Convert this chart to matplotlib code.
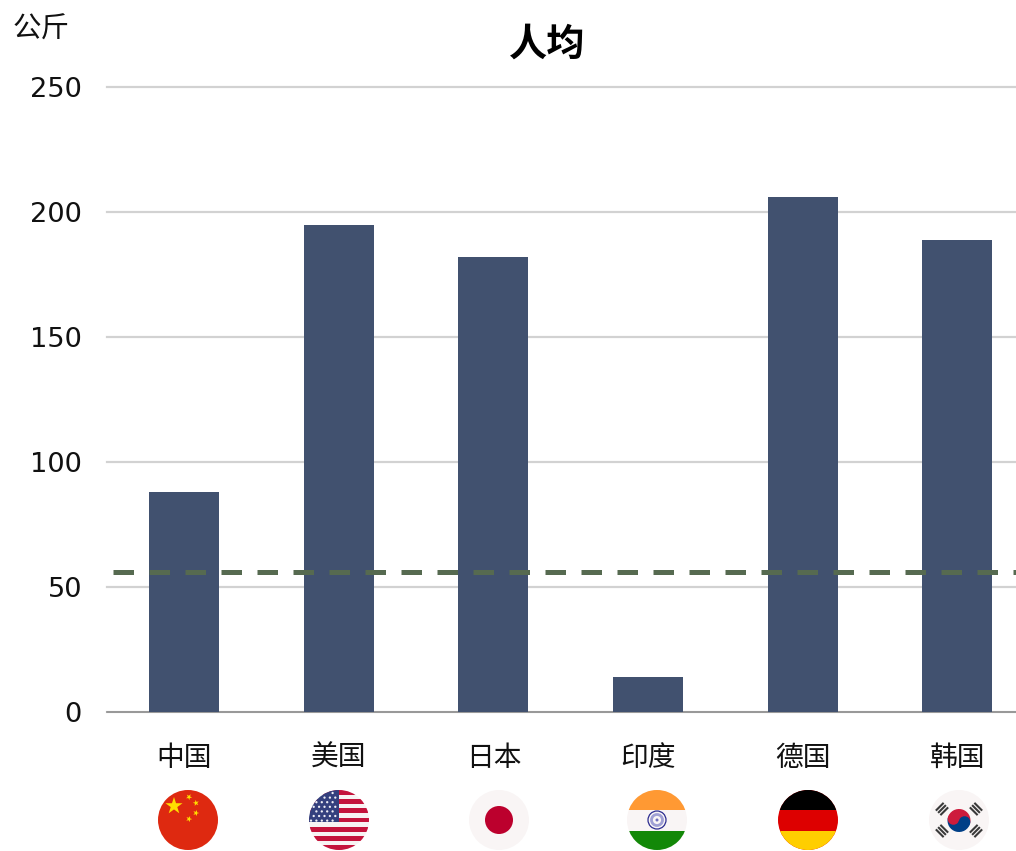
import numpy as np
import matplotlib
matplotlib.use("Agg")
import matplotlib.pyplot as plt
from matplotlib.patches import Circle, Rectangle, Wedge, Polygon

plt.rcParams['font.family'] = ['Noto Sans CJK SC', 'DejaVu Sans']

categories = ['中国', '美国', '日本', '印度', '德国', '韩国']
values = [88, 195, 182, 14, 206, 189]
reference_value = 56
y_ticks = [0, 50, 100, 150, 200, 250]

W, H = 1016, 851
fig = plt.figure(figsize=(W / 100, H / 100), dpi=100, facecolor='white')

# axes run past the right edge of the figure, as in the reference
left, right, top, bottom = 107, 1034.5, 87, 712
ax = fig.add_axes([left / W, 1 - bottom / H, (right - left) / W, (bottom - top) / H])
x = np.arange(len(categories))
ax.bar(x, values, width=0.453, color='#41516f', zorder=3)
ax.axhline(reference_value, xmin=0.0065, color='#566a50', lw=3.6,
           dashes=(4.1, 3.1), dash_capstyle='butt', zorder=4)
ax.set_xlim(-0.5, len(categories) - 0.5)
ax.set_ylim(0, 250)
ax.set_xticks(x, categories, fontsize=20, color='#111111')
ax.set_yticks(y_ticks, [str(t) for t in y_ticks], fontsize=19.6, color='#111111',
              family='DejaVu Sans')
ax.tick_params(axis='both', length=0)
ax.tick_params(axis='x', pad=22)
ax.tick_params(axis='y', pad=18)
ax.grid(axis='y', color='#d2d2d2', lw=1.6, zorder=0, clip_on=False)
ax.set_axisbelow(True)
for s in ('top', 'left', 'right'):
    ax.spines[s].set_visible(False)
ax.spines['bottom'].set_color('#888888')
ax.spines['bottom'].set_linewidth(1.1)

fig.text(547 / W, 1 - 44 / H, '人均', fontsize=27.5, fontweight='bold', ha='center',
         va='center', color='black')
fig.text(13 / W, 1 - 30 / H, '公斤', fontsize=20.5, ha='left', va='center', color='#111111')

# decorative flags, drawn in pixel space
ov = fig.add_axes([0, 0, 1, 1], zorder=10)
ov.set_xlim(0, W)
ov.set_ylim(H, 0)
ov.axis('off')
R = 30
CY = 820


def star(cx, cy, r, color, rot=-90):
    a = np.deg2rad(rot + np.arange(10) * 36)
    rad = np.where(np.arange(10) % 2 == 0, r, r * 0.382)
    ov.add_patch(Polygon(np.c_[cx + rad * np.cos(a), cy + rad * np.sin(a)],
                         closed=True, fc=color, ec='none'))


def base(cx, color):
    c = Circle((cx, CY), R, fc=color, ec='none')
    ov.add_patch(c)
    return c


def band(cx, y0, y1, color, clip, x0=None, x1=None):
    x0 = cx - R if x0 is None else x0
    x1 = cx + R if x1 is None else x1
    p = Rectangle((x0, y0), x1 - x0, y1 - y0, fc=color, ec='none')
    ov.add_patch(p)
    p.set_clip_path(clip)


def china(cx):
    base(cx, '#de2910')
    star(cx - 14, CY - 14, 9, '#ffde00')
    for dx, dy, rot in [(1, -23, -60), (8, -17, -30), (8, -7, 0), (1, -1, -70)]:
        star(cx + dx, CY + dy, 3.2, '#ffde00', rot)


def usa(cx):
    c = base(cx, '#f7f3f3')
    h = 2 * R / 13
    for i in range(0, 13, 2):
        band(cx, CY - R + i * h, CY - R + (i + 1) * h, '#c4143c', c)
    band(cx, CY - R, CY + 2, '#34407e', c, x1=cx)
    for row, yy in enumerate(np.arange(CY - 27, CY + 1, 4.6)):
        off = 0 if row % 2 == 0 else 2.7
        for xx in np.arange(cx - 28 + off, cx - 1, 5.4):
            if (xx - cx) ** 2 + (yy - CY) ** 2 < (R - 1) ** 2:
                ov.add_patch(Circle((xx, yy), 1.15, fc='#eeeef6', ec='none'))


def japan(cx):
    base(cx, '#f9f5f5')
    ov.add_patch(Circle((cx, CY), 14, fc='#bc002d', ec='none'))


def india(cx):
    c = base(cx, '#f9f5f5')
    band(cx, CY - R, CY - 10, '#ff9933', c)
    band(cx, CY + 11, CY + R, '#138808', c)
    ov.add_patch(Circle((cx, CY), 9, fc='none', ec='#2c2c90', lw=0.9))
    ov.add_patch(Circle((cx, CY), 5.5, fc='none', ec='#a0a0d4', lw=2.0))
    ov.add_patch(Circle((cx, CY), 1.5, fc='#7070bc', ec='none'))


def germany(cx):
    c = base(cx, '#dd0000')
    band(cx, CY - R, CY - 10, '#000000', c)
    band(cx, CY + 11, CY + R, '#ffce00', c)


def korea(cx):
    base(cx, '#f9f5f5')
    r = 11.5
    cy = CY + 0.5
    tilt = 15
    ov.add_patch(Wedge((cx, cy), r, 180 + tilt, 360 + tilt, fc='#cd1b3c', ec='none'))
    ov.add_patch(Wedge((cx, cy), r, tilt, 180 + tilt, fc='#003f87', ec='none'))
    t = np.deg2rad(tilt)
    dx, dy = r / 2 * np.cos(t), r / 2 * np.sin(t)
    ov.add_patch(Circle((cx - dx, cy - dy), r / 2, fc='#cd1b3c', ec='none'))
    ov.add_patch(Circle((cx + dx, cy + dy), r / 2, fc='#003f87', ec='none'))
    for sx, sy in [(-1, -1), (1, -1), (-1, 1), (1, 1)]:
        centre = np.array([cx + sx * 17, CY + sy * 11], float)
        u = np.array([sx, sy], float) / np.sqrt(2)
        p = np.array([-u[1], u[0]])
        for d in (-3.2, 0, 3.2):
            m = centre + u * d
            a, b = m - p * 5.5, m + p * 5.5
            ov.plot([a[0], b[0]], [a[1], b[1]], color='#3a3a3a', lw=1.5,
                    solid_capstyle='butt')


flag_drawers = [china, usa, japan, india, germany, korea]
flag_centres = [188, 339, 499, 657, 808, 959]
for draw, cx in zip(flag_drawers, flag_centres):
    draw(cx)
ov.set_xlim(0, W)
ov.set_ylim(H, 0)

fig.savefig('out.png', dpi=100, facecolor='white')
